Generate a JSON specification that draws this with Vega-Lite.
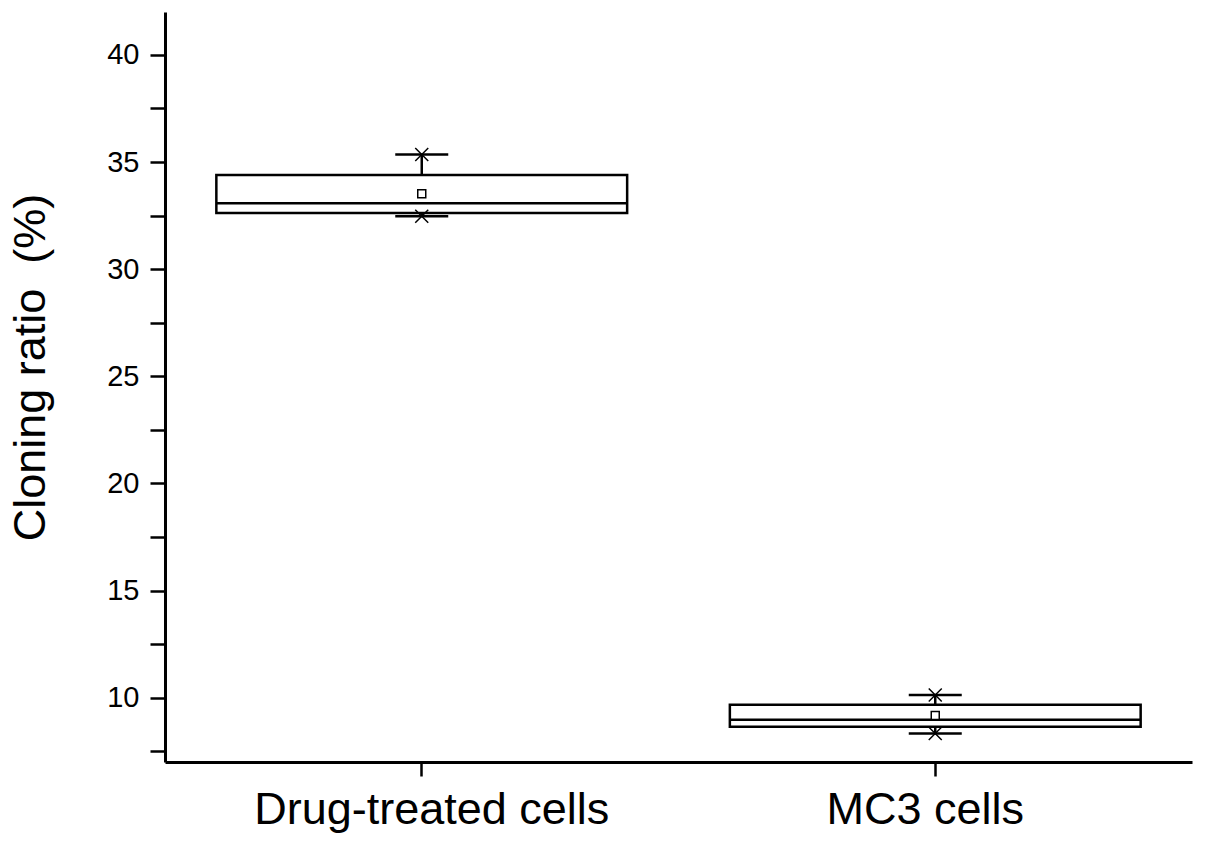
{
  "$schema": "https://vega.github.io/schema/vega-lite/v6.json",
  "width": 1027,
  "height": 750,
  "autosize": {"type": "none"},
  "padding": {"left": 165, "top": 12, "right": 13, "bottom": 87},
  "background": "white",
  "config": {"view": {"stroke": null}, "font": "Liberation Sans"},
  "data": {
    "values": [
      {"group": "Drug-treated cells", "min": 32.47, "q1": 32.62, "median": 33.07, "q3": 34.39, "max": 35.35, "mean": 33.52},
      {"group": "MC3 cells", "min": 8.33, "q1": 8.64, "median": 8.97, "q3": 9.67, "max": 10.13, "mean": 9.17}
    ]
  },
  "encoding": {
    "x": {
      "field": "group",
      "type": "nominal",
      "sort": null,
      "scale": {"paddingInner": 0.2, "paddingOuter": 0.1},
      "axis": {
        "title": null,
        "labelFontSize": 45,
        "labelFont": "Liberation Sans",
        "labelColor": "black",
        "labelAngle": 0,
        "labelLimit": 0,
        "labelBaseline": "alphabetic",
        "labelPadding": 47,
        "labelOffset": {"condition": {"test": "datum.value === 'Drug-treated cells'", "value": 10}, "value": -10},
        "tickSize": 14,
        "tickWidth": 2.5,
        "tickColor": "black",
        "domainColor": "black",
        "domainWidth": 3,
        "grid": false
      }
    }
  },
  "layer": [
    {
      "mark": {"type": "rule", "color": "black", "strokeWidth": 2.5},
      "encoding": {
        "y": {
          "field": "min",
          "type": "quantitative",
          "title": "Cloning ratio\u00a0 (%)",
          "scale": {"domain": [7, 42], "nice": false, "zero": false},
          "axis": {
            "title": "Cloning ratio\u00a0 (%)",
            "values": [7.5, 10, 12.5, 15, 17.5, 20, 22.5, 25, 27.5, 30, 32.5, 35, 37.5, 40],
            "labelExpr": "datum.value % 5 === 0 ? datum.label : ''",
            "tickSize": 15,
            "encode": {"ticks": {"update": {"x2": {"signal": "datum.value % 5 === 0 ? -15 : -8"}}}},
            "tickWidth": 2.5,
            "tickColor": "black",
            "domainColor": "black",
            "domainWidth": 3,
            "grid": false,
            "labelFont": "Liberation Sans",
            "labelFontSize": 29,
            "labelColor": "black",
            "labelPadding": 11,
            "titleFont": "Liberation Sans",
            "titleFontSize": 45,
            "titleFontWeight": "normal",
            "titleColor": "black",
            "titleAngle": -90,
            "titleAlign": "center",
            "titleBaseline": "alphabetic",
            "titleX": -121,
            "titleY": 355
          }
        },
        "y2": {"field": "max"}
      }
    },
    {
      "mark": {"type": "bar", "fill": "white", "stroke": "black", "strokeWidth": 2.5, "opacity": 1},
      "encoding": {
        "y": {"field": "q1", "type": "quantitative", "title": "Cloning ratio\u00a0 (%)"},
        "y2": {"field": "q3"}
      }
    },
    {
      "mark": {"type": "tick", "color": "black", "size": 410, "thickness": 2.5, "opacity": 1},
      "encoding": {"y": {"field": "median", "type": "quantitative", "title": "Cloning ratio\u00a0 (%)"}}
    },
    {
      "mark": {"type": "tick", "color": "black", "size": 53, "thickness": 2.5, "opacity": 1},
      "encoding": {"y": {"field": "max", "type": "quantitative", "title": "Cloning ratio\u00a0 (%)"}}
    },
    {
      "mark": {"type": "tick", "color": "black", "size": 53, "thickness": 2.5, "opacity": 1},
      "encoding": {"y": {"field": "min", "type": "quantitative", "title": "Cloning ratio\u00a0 (%)"}}
    },
    {
      "mark": {"type": "point", "shape": "M-1,-1L1,1M1,-1L-1,1", "size": 169, "filled": false, "stroke": "black", "strokeWidth": 1.5, "opacity": 1},
      "encoding": {"y": {"field": "max", "type": "quantitative", "title": "Cloning ratio\u00a0 (%)"}}
    },
    {
      "mark": {"type": "point", "shape": "M-1,-1L1,1M1,-1L-1,1", "size": 169, "filled": false, "stroke": "black", "strokeWidth": 1.5, "opacity": 1},
      "encoding": {"y": {"field": "min", "type": "quantitative", "title": "Cloning ratio\u00a0 (%)"}}
    },
    {
      "mark": {"type": "point", "shape": "square", "size": 64, "filled": false, "fill": "white", "stroke": "black", "strokeWidth": 1.5, "opacity": 1},
      "encoding": {"y": {"field": "mean", "type": "quantitative", "title": "Cloning ratio\u00a0 (%)"}}
    }
  ]
}
